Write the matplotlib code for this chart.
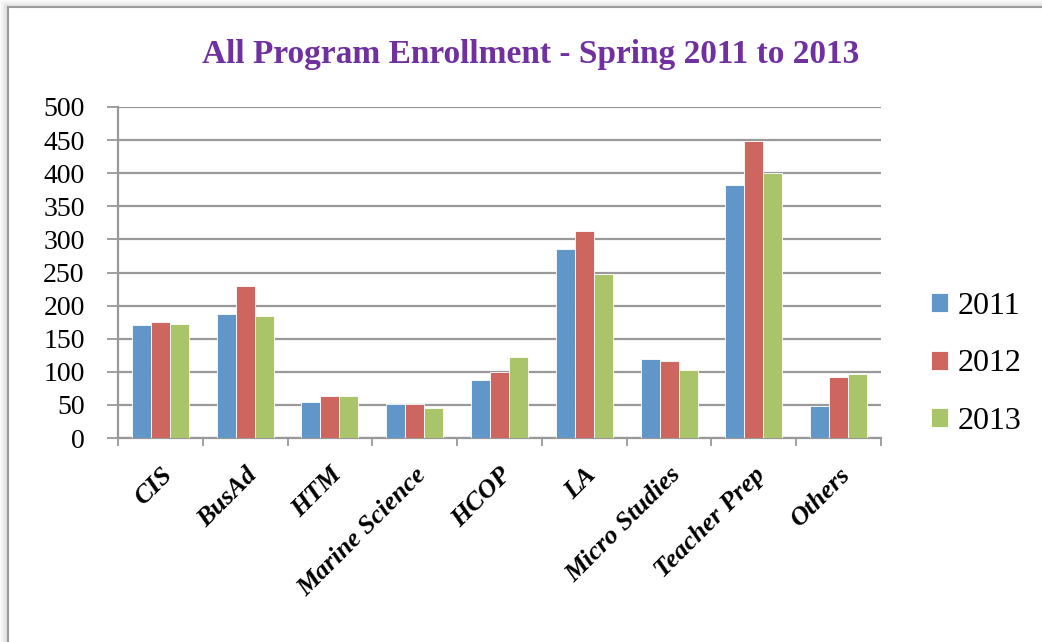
import matplotlib
matplotlib.use("Agg")
import matplotlib.pyplot as plt
import matplotlib.transforms as mtrans
import numpy as np
from matplotlib.lines import Line2D
from matplotlib.patches import Rectangle

# Program enrollment, spring semesters
programs = ['CIS', 'BusAd', 'HTM', 'Marine Science', 'HCOP', 'LA',
            'Micro Studies', 'Teacher Prep', 'Others']
years = ['2011', '2012', '2013']
enroll_2011 = [170, 188, 54, 51, 88, 285, 120, 382, 48]
enroll_2012 = [175, 230, 64, 51, 99, 313, 117, 448, 92]
enroll_2013 = [172, 184, 64, 45, 122, 247, 103, 401, 97]
yticks = [0, 50, 100, 150, 200, 250, 300, 350, 400, 450, 500]

colors = ['#6096C8', '#CD665E', '#AAC46A']
grid_col = '#999999'

fig = plt.figure(figsize=(10.42, 6.42), dpi=100)
ax = fig.add_axes([118 / 1042, 1 - 438 / 642, (881 - 118) / 1042, (438 - 107) / 642])

x = np.arange(len(programs))
w = 0.224
series = [enroll_2011, enroll_2012, enroll_2013]
for i, (vals, yr) in enumerate(zip(series, years)):
    ax.bar(x + (i - 1) * w, vals, w, color=colors[i], label=yr,
           edgecolor='white', linewidth=0.6, zorder=3)

ax.set_xlim(-0.5, len(programs) - 0.5)
ax.set_ylim(0, 500)
ax.set_yticks(yticks)
ax.set_yticklabels([str(t) for t in yticks], fontfamily='Liberation Serif', fontsize=20)
ax.yaxis.grid(True, color=grid_col, linewidth=1.6, zorder=0)
ax.tick_params(axis='y', length=8, width=1.3, color=grid_col, pad=16)

# category ticks sit between the groups
ax.set_xticks(np.arange(len(programs) + 1) - 0.5, minor=True)
ax.set_xticks(x)
ax.set_xticklabels(programs, rotation=45, ha='right', va='center',
                   rotation_mode='anchor', fontfamily='Liberation Serif',
                   fontweight='bold', fontstyle='italic', fontsize=19)
ax.tick_params(axis='x', which='major', length=0, pad=24)
ax.tick_params(axis='x', which='minor', length=6, width=1.3, color=grid_col)
shift = mtrans.ScaledTranslation(8 / 100, 0, fig.dpi_scale_trans)
for lab in ax.get_xticklabels():
    lab.set_transform(lab.get_transform() + shift)

for s in ['top', 'right']:
    ax.spines[s].set_visible(False)
ax.spines['left'].set_color(grid_col)
ax.spines['bottom'].set_color(grid_col)
ax.spines['left'].set_linewidth(1.6)
ax.spines['bottom'].set_linewidth(1.6)
ax.set_axisbelow(True)

fig.text(531 / 1042, 1 - 54 / 642, 'All Program Enrollment - Spring 2011 to 2013',
         ha='center', va='center', color='#7030A0', fontsize=24,
         fontfamily='Liberation Serif', fontweight='bold')

leg = fig.legend(loc='center left', bbox_to_anchor=(902 / 1042, 1 - 364 / 642),
                 frameon=False, prop={'family': 'Liberation Serif', 'size': 23},
                 handlelength=0.54, handleheight=0.54, handletextpad=0.3,
                 labelspacing=0.9)

# chart frame with a soft shadow along the top and left
for k in range(7):
    a = 0.05 + 0.05 * k
    fig.add_artist(Rectangle((k / 1042, 0), 1 / 1042, 1 - k / 642, transform=fig.transFigure,
                             color=str(1 - a * 0.35), linewidth=0, zorder=0))
    fig.add_artist(Rectangle((k / 1042, 1 - (k + 1) / 642), 1, 1 / 642, transform=fig.transFigure,
                             color=str(1 - a * 0.35), linewidth=0, zorder=0))
fig.add_artist(Line2D([8 / 1042, 8 / 1042], [0, 1 - 7 / 642], transform=fig.transFigure,
                      color='#9a9a9a', linewidth=1.5))
fig.add_artist(Line2D([8 / 1042, 1], [1 - 7 / 642, 1 - 7 / 642], transform=fig.transFigure,
                      color='#9a9a9a', linewidth=1.5))

fig.savefig('out.png', dpi=100)
